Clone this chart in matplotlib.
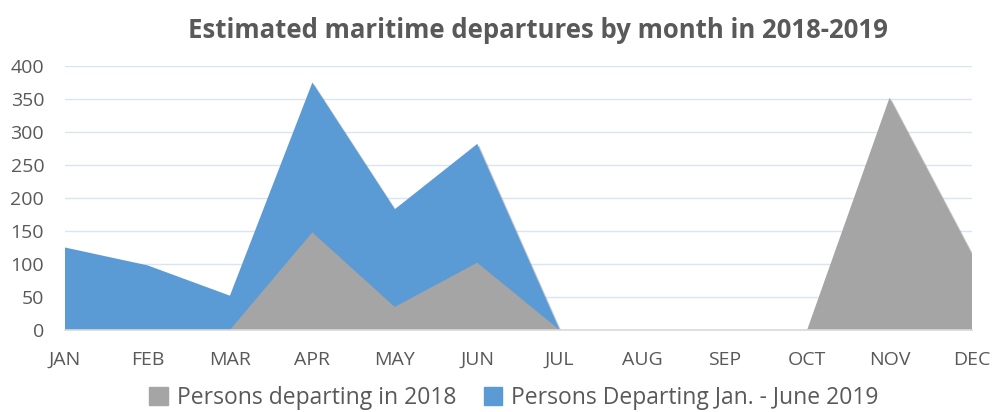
import numpy as np
import matplotlib
matplotlib.use("Agg")
import matplotlib.pyplot as plt
import matplotlib.patches as mpatches
import matplotlib.patheffects as pe

plt.rcParams['font.family'] = ['Open Sans', 'DejaVu Sans']

months = ["JAN", "FEB", "MAR", "APR", "MAY", "JUN", "JUL", "AUG", "SEP", "OCT", "NOV", "DEC"]
dep_2018 = [0, 0, 0, 148, 35, 102, 0, 0, 0, 0, 352, 115]
dep_2019 = [125, 98, 52, 375, 183, 282, 0, np.nan, np.nan, np.nan, np.nan, np.nan]
labels = ["Persons departing in 2018", "Persons Departing Jan. - June 2019"]

gray = "#a5a5a5"
blue = "#5b9bd5"
txt = "#595959"

fig = plt.figure(figsize=(9.92, 4.12), dpi=100)
ax = fig.add_axes([65 / 992, 82 / 412, 907 / 992, 264 / 412])

x = np.arange(len(months))
shadow = [pe.SimplePatchShadow(offset=(1.5, -1.5), alpha=0.25), pe.Normal()]

y19 = np.array(dep_2019, dtype=float)
ok = ~np.isnan(y19)
ax.fill_between(x[ok], 0, y19[ok], color=blue, lw=0, zorder=2, path_effects=shadow)
ax.fill_between(x, 0, dep_2018, color=gray, lw=0, zorder=3, path_effects=shadow)

ax.set_xlim(0, 11)
ax.set_ylim(0, 400)
ax.set_yticks(range(0, 401, 50))
ax.set_xticks(x)
ax.set_xticklabels(months)
ax.yaxis.grid(True, color="#dae5f2", lw=1, zorder=0)
ax.set_axisbelow(True)
for s in ["top", "right", "left"]:
    ax.spines[s].set_visible(False)
ax.spines["bottom"].set_color("#d9d9d9")
ax.spines["bottom"].set_linewidth(1.2)
ax.spines["bottom"].set_zorder(4)
ax.tick_params(axis="both", length=0, labelsize=14, colors=txt)
ax.tick_params(axis="x", pad=15)
ax.tick_params(axis="y", pad=15)

fig.text(538 / 992, 1 - 30 / 412, "Estimated maritime departures by month in 2018-2019",
         ha="center", va="center", fontsize=18.5, fontweight="bold", color=txt)

handles = [mpatches.Patch(color=gray, label=labels[0]),
           mpatches.Patch(color=blue, label=labels[1])]
fig.legend(handles=handles, loc="center", bbox_to_anchor=(514 / 992, 1 - 398 / 412),
           ncol=2, frameon=False, fontsize=16.5, labelcolor=txt,
           handlelength=0.8, handleheight=0.8, handletextpad=0.4, columnspacing=1.2)

fig.savefig("out.png", dpi=100)
